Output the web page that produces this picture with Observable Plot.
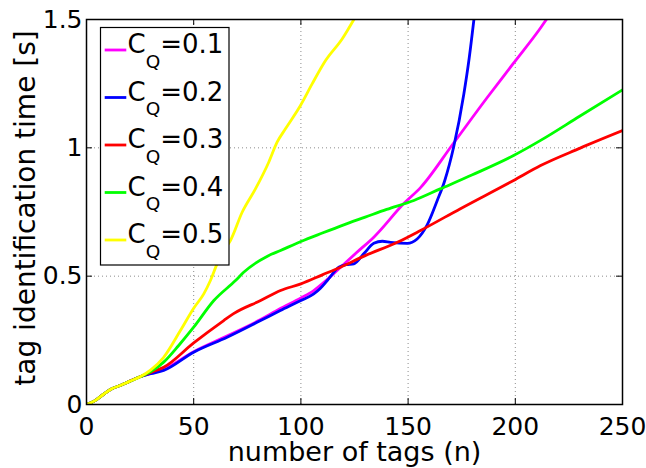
<!DOCTYPE html>
<html><head><meta charset="utf-8">
<script src="https://cdn.jsdelivr.net/npm/d3@7"></script>
<script src="https://cdn.jsdelivr.net/npm/@observablehq/plot@0.6"></script>
<style>
body{margin:0;background:#fff;}
#wrap{position:relative;width:646px;height:468px;font-family:"DejaVu Sans",sans-serif;}
#wrap svg.legend{position:absolute;left:0;top:0;}
</style></head><body><div id="wrap"></div>
<script>
// ---- data ----
const cqLabels = ["0.1", "0.2", "0.3", "0.4", "0.5"];
const cqColors = ["#ff00ff", "#0000ff", "#ff0000", "#00ff00", "#ffff00"];

const nQ1 = [0,4,8,12,16,20,25,30,36,50,65,81,90,100,106,112,118.5,126,134,148,156,171,187,199,212,214.5];
const tQ1 = [0,0.015,0.04,0.062,0.075,0.09,0.108,0.122,0.138,0.206,0.265,0.33,0.372,0.415,0.444,0.485,0.535,0.592,0.652,0.783,0.847,1.016,1.197,1.328,1.47,1.5];

const nQ2 = [0,4,8,12,16,20,25,30,36,50,65.6,81.2,90.4,100,106,109,112.3,117.7,121,124.7,129.3,134,138,141.8,149.6,154.2,158.9,163.6,167,171.3,176,178.5,180.7];
const tQ2 = [0,0.015,0.04,0.062,0.075,0.09,0.108,0.12,0.133,0.204,0.262,0.327,0.366,0.405,0.431,0.452,0.483,0.535,0.545,0.548,0.587,0.628,0.636,0.632,0.628,0.645,0.70,0.795,0.87,1.005,1.21,1.35,1.5];

const nQ3 = [0,4,8,12,16,20,25,30,36,50,64,68.6,81.2,90.5,100,110,118.5,130,145,155.8,174.4,199.2,211.8,230,250];
const tQ3 = [0,0.015,0.04,0.062,0.075,0.09,0.108,0.125,0.145,0.24,0.327,0.354,0.405,0.444,0.47,0.505,0.535,0.58,0.632,0.678,0.763,0.873,0.931,0.998,1.067];

const nQ4 = [0,4,8,12,16,20,25,30,36,43,50,59.4,69.5,73.3,84.4,90.5,100,110,120,130,140,152.7,165,180,199.2,211.8,230,250];
const tQ4 = [0,0.015,0.04,0.062,0.075,0.09,0.108,0.128,0.165,0.23,0.301,0.405,0.483,0.515,0.578,0.6,0.635,0.668,0.70,0.73,0.76,0.795,0.84,0.895,0.97,1.029,1.123,1.226];

const nQ5 = [0,4,8,12,16,20,25,30,36,43.8,50,54.7,57.8,61,64,67.2,72.6,78.8,85,88.9,92.8,99.8,105.3,111.5,119.3,124.7];
const tQ5 = [0,0.015,0.04,0.062,0.075,0.09,0.108,0.135,0.184,0.288,0.375,0.431,0.483,0.55,0.6,0.64,0.749,0.84,0.944,1.022,1.074,1.165,1.25,1.34,1.425,1.5];

const xTicks = [0, 50, 100, 150, 200, 250];
const xTickLabels = ["0", "50", "100", "150", "200", "250"];
const yTicks = [0, 0.5, 1, 1.5];
const yTickLabels = ["0", "0.5", "1", "1.5"];
const xGrid = [50, 100, 150, 200];
const yGrid = [0.5, 1];
const xLabel = "number of tags (n)";
const yLabel = "tag identification time [s]";

// ---- build table ----
const seriesN = [nQ1, nQ2, nQ3, nQ4, nQ5];
const seriesT = [tQ1, tQ2, tQ3, tQ4, tQ5];
const rows = [];
cqLabels.forEach((cq, k) => {
  seriesN[k].forEach((n, i) => rows.push({cq, n, t: seriesT[k][i]}));
});

const W = 646, H = 468, mL = 86, mT = 19, mR = 24, mB = 64;
const innerH = H - mT - mB, innerW = W - mL - mR;
const tk = 6;
const font = "DejaVu Sans";

const plot = Plot.plot({
  width: W, height: H,
  marginLeft: mL, marginTop: mT, marginRight: mR, marginBottom: mB,
  style: {fontFamily: font, background: "#fff", color: "#000", overflow: "visible"},
  x: {domain: [0, 250], label: null},
  y: {domain: [0, 1.5], label: null},
  color: {domain: cqLabels, range: cqColors},
  marks: [
    Plot.gridX(xGrid, {stroke: "#8c8c8c", strokeOpacity: 1, strokeWidth: 1, strokeDasharray: "1,3"}),
    Plot.gridY(yGrid, {stroke: "#8c8c8c", strokeOpacity: 1, strokeWidth: 1, strokeDasharray: "1,3"}),
    Plot.line(rows, {x: "n", y: "t", z: "cq", stroke: "cq", strokeWidth: 2.8, curve: "monotone-x", clip: true}),
    Plot.ruleX(xTicks, {x: d => d, insetTop: innerH - tk, stroke: "#000", strokeWidth: 1}),
    Plot.ruleX(xTicks, {x: d => d, insetBottom: innerH - tk, stroke: "#000", strokeWidth: 1}),
    Plot.ruleY(yTicks, {y: d => d, insetRight: innerW - tk, stroke: "#000", strokeWidth: 1}),
    Plot.ruleY(yTicks, {y: d => d, insetLeft: innerW - tk, stroke: "#000", strokeWidth: 1}),
    Plot.frame({stroke: "#000", strokeWidth: 1.5}),
    Plot.axisX(xTicks, {tickSize: 0, tickPadding: 13, fontSize: 25, fill: "#000",
      tickFormat: d => xTickLabels[xTicks.indexOf(d)], label: null}),
    Plot.axisY(yTicks, {tickSize: 0, tickPadding: 4, fontSize: 25, fill: "#000",
      tickFormat: d => yTickLabels[yTicks.indexOf(d)], label: null}),
    Plot.text([xLabel], {text: d => d, frameAnchor: "bottom", textAnchor: "middle", dy: 56, lineAnchor: "bottom", fontSize: 27, fill: "#000"}),
    Plot.text([yLabel], {text: d => d, frameAnchor: "left", textAnchor: "middle", rotate: -90, dx: -52, dy: -4, lineAnchor: "bottom", fontSize: 28, fill: "#000"})
  ]
});

const wrap = document.getElementById("wrap");
wrap.appendChild(plot);

// ---- legend overlay ----
const lg = d3.select(wrap).append("svg").attr("class", "legend")
  .attr("width", W).attr("height", H).style("font-family", font).style("pointer-events", "none");
const box = {x: 100.5, y: 27.5, w: 128.5, h: 237.5};
lg.append("rect").attr("x", box.x).attr("y", box.y).attr("width", box.w).attr("height", box.h)
  .attr("fill", "#fff").attr("stroke", "#000").attr("stroke-width", 1.2);
cqLabels.forEach((cq, i) => {
  const yy = 50 + i * 47.5;
  lg.append("line").attr("x1", 104.7).attr("x2", 126.3).attr("y1", yy).attr("y2", yy)
    .attr("stroke", cqColors[i]).attr("stroke-width", 2.8);
  const t = lg.append("text").attr("x", 127.5).attr("y", yy + 3.3).attr("font-size", 26).attr("fill", "#000");
  t.append("tspan").text("C");
  t.append("tspan").attr("font-size", 18.5).attr("dy", 14.4).text("Q");
  t.append("tspan").attr("dy", -14.4).text("=" + cq);
});
</script></body></html>
